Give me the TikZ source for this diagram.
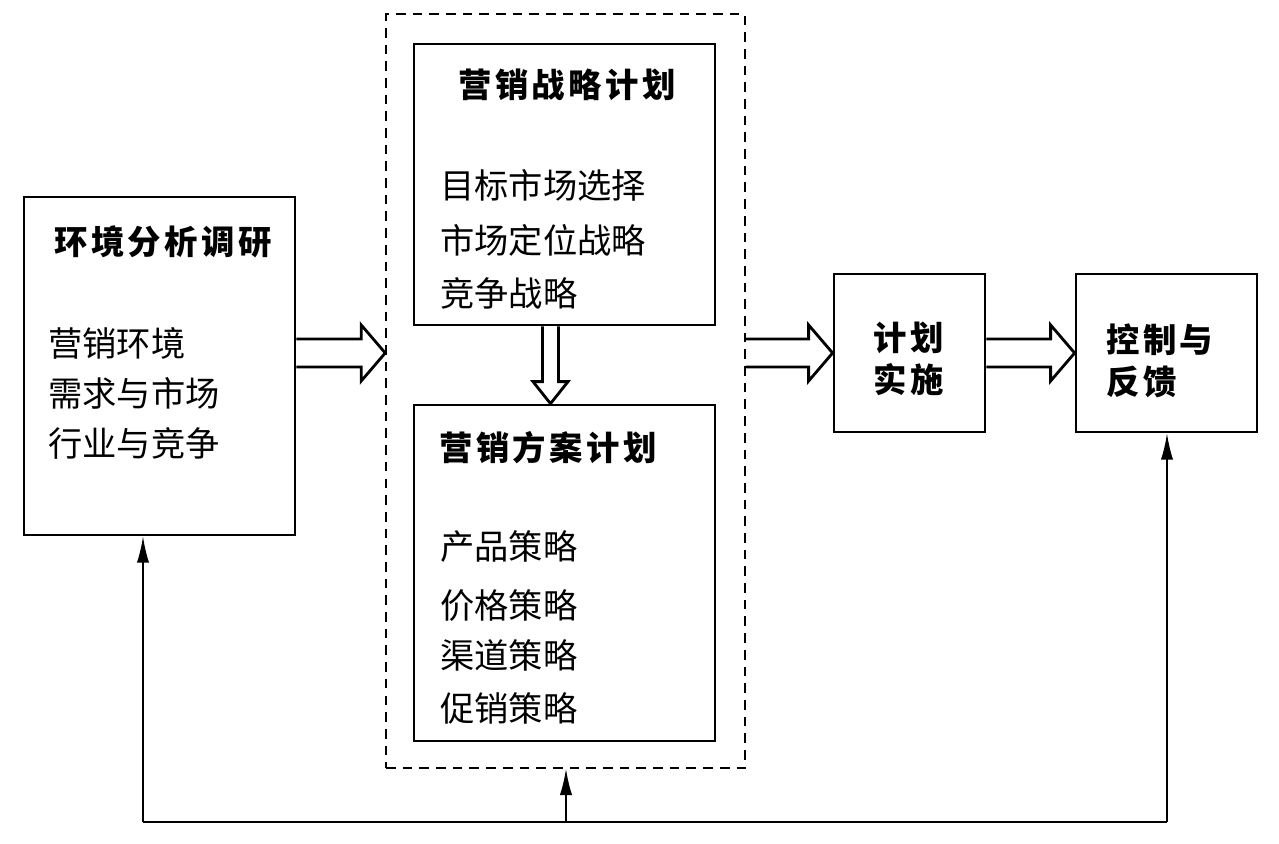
\documentclass[tikz,border=0pt]{standalone}
\usepackage{fontspec}
\usetikzlibrary{arrows.meta, positioning, calc}
\newfontfamily\cjk{Noto Sans CJK SC}
\newfontfamily\cjkt[LetterSpace=10]{Noto Sans CJK SC}

% hollow block arrow, horizontal: start, tip
\newcommand{\hollowh}[2]{%
  \draw[hollow] ($(#1)+(0,-14)$) -- ($(#2)+(-24,-14)$) -- ($(#2)+(-24,-28)$) -- (#2)
    -- ($(#2)+(-24,28)$) -- ($(#2)+(-24,14)$) -- ($(#1)+(0,14)$);}

\tikzset{
  box/.style={draw, line width=1.6pt, inner sep=0pt},
  planbox/.style={draw, line width=0.9pt, dash pattern=on 5.5pt off 4pt, inner sep=0pt},
  title/.style={font=\cjkt\bfseries\fontsize{19}{23.8}\selectfont, inner sep=0pt},
  body/.style={font=\cjk\fontsize{19.5}{22}\selectfont, inner sep=0pt, anchor=west},
  hollow/.style={line width=1.6pt, line join=miter},
  fb/.style={line width=1pt},
  fbarrow/.style={line width=1pt, -{Latex[length=15pt,width=7pt]}}
}

\begin{document}
\begin{tikzpicture}[x=0.02cm, y=-0.02cm]
  \useasboundingbox (0,0) rectangle (1279,844);

  % boxes
  \node[box, minimum width=5.42cm, minimum height=6.76cm] (env) at (159.5,366) {};
  \node[planbox, minimum width=7.18cm, minimum height=15.08cm] (plan) at (565.5,391) {};
  \node[box, minimum width=6.02cm, minimum height=5.62cm] (strat) at (564.5,184.5) {};
  \node[box, minimum width=6.02cm, minimum height=6.72cm] (prog) at (564.5,573) {};
  \node[box, minimum width=3.02cm, minimum height=3.16cm] (impl) at (909.5,353) {};
  \node[box, minimum width=3.62cm, minimum height=3.16cm] (ctrl) at (1166.5,353) {};

  % titles
  \node[title] (envtitle) at (163,242) {环境分析调研};
  \node[title] (strattitle) at (567,85) {营销战略计划};
  \node[title] (progtitle) at (548,448) {营销方案计划};
  \node[title, align=center] (impltext) at (909,359) {计划\\实施};
  \node[title, align=left, anchor=west] (ctrltext) at (1106,361) {控制与\\反馈};

  % contents
  \foreach \y/\t [count=\i] in {343/营销环境, 393/需求与市场, 443/行业与竞争}
    \node[body] (env\i) at (48,\y) {\t};
  \foreach \y/\t [count=\i] in {185/目标市场选择, 240/市场定位战略, 293/竞争战略}
    \node[body] (strat\i) at (440,\y) {\t};
  \foreach \y/\t [count=\i] in {547/产品策略, 606/价格策略, 655/渠道策略, 708/促销策略}
    \node[body] (prog\i) at (440,\y) {\t};

  % block arrows
  \coordinate (a1s) at (env.east |- impl.center);
  \coordinate (a1t) at (plan.west |- impl.center);
  \coordinate (a2s) at (plan.east |- impl.center);
  \hollowh{a1s}{a1t}
  \hollowh{a2s}{impl.west}
  \hollowh{impl.east}{ctrl.west}
  \coordinate (vs) at ($(strat.south)+(-14,0)$);
  \coordinate (vt) at ($(prog.north)+(-14,0)$);
  \draw[hollow] ($(vs)+(-8,0)$) -- ($(vt)+(-8,-22)$) -- ($(vt)+(-17.5,-22)$) -- (vt)
    -- ($(vt)+(17.5,-22)$) -- ($(vt)+(8,-22)$) -- ($(vs)+(8,0)$);

  % feedback
  \coordinate (fbl) at (143,822);
  \coordinate (fbm) at (566,822);
  \coordinate (fbr) at (1167,822);
  \draw[fb] (fbl) -- (fbr);
  \draw[fbarrow] (fbl) -- (fbl |- env.south);
  \draw[fbarrow] (fbm) -- (fbm |- plan.south);
  \draw[fbarrow] (fbr) -- (fbr |- ctrl.south);
\end{tikzpicture}
\end{document}
